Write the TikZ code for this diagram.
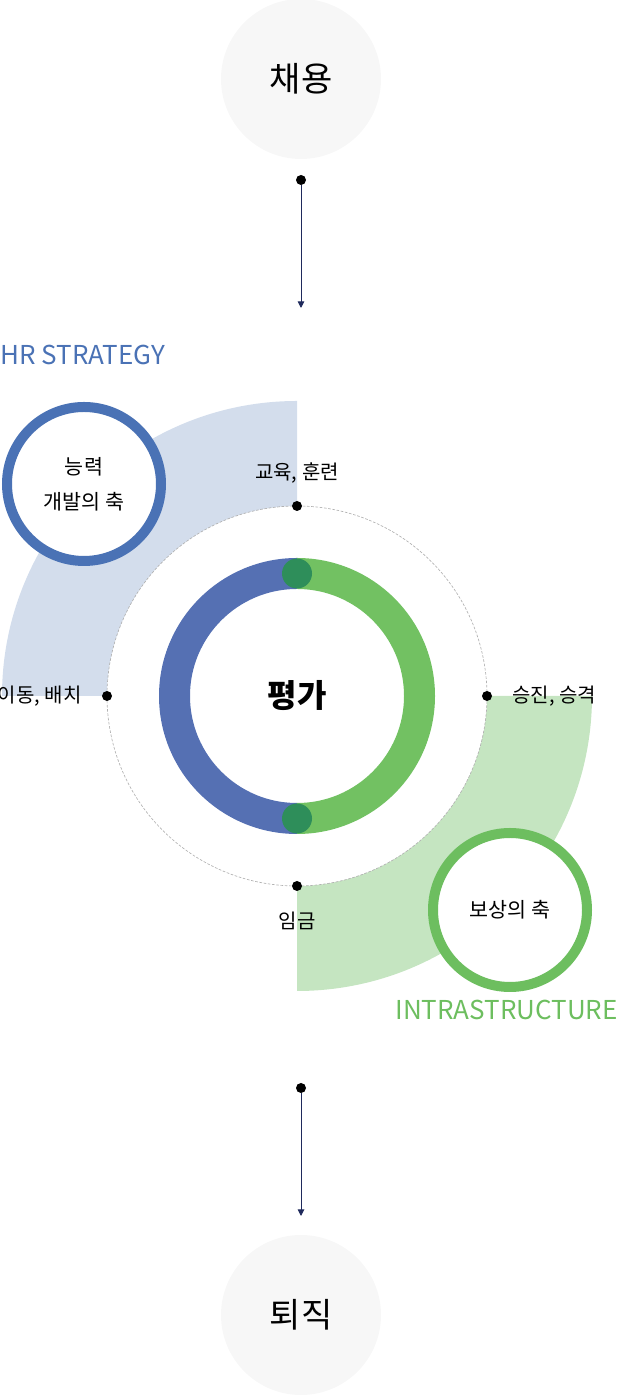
\documentclass[tikz,border=0pt]{standalone}
\usepackage{fontspec}
\setmainfont{Noto Sans CJK KR}
\usetikzlibrary{arrows.meta, positioning, calc}
\definecolor{hrblue}{HTML}{4A72B5}
\definecolor{ringblue}{HTML}{5570B3}
\definecolor{paleblue}{HTML}{D3DDEC}
\definecolor{infragreen}{HTML}{6DBE5F}
\definecolor{ringgreen}{HTML}{72C162}
\definecolor{palegreen}{HTML}{C5E5C1}
\definecolor{jointgreen}{HTML}{2E8E5A}
\definecolor{stagegray}{HTML}{F7F7F7}
\definecolor{flow}{HTML}{1F2A5C}

\begin{document}
\begin{tikzpicture}[
    x=0.75pt, y=0.75pt,
    stage/.style={circle, fill=stagegray, minimum size=120pt, inner sep=0pt, font=\fontsize{25.5}{30}\selectfont},
    axis/.style={circle, draw=#1, line width=7.5pt, fill=white, minimum size=115.5pt, inner sep=0pt, align=center, font=\fontsize{15.5}{26}\selectfont},
    dot/.style={circle, fill=black, minimum size=7.5pt, inner sep=0pt},
    joint/.style={circle, fill=jointgreen, minimum size=22.5pt, inner sep=0pt},
    tag/.style={font=\fontsize{15}{18}\selectfont, inner sep=0pt},
    title/.style={font=\fontsize{19.5}{24}\selectfont, inner sep=0pt},
    arrow/.style={-{Triangle[length=5pt, width=5pt]}, draw=flow, line width=0.75pt}
]
    \useasboundingbox (0,0) rectangle (618,1395);
    \coordinate (C) at (297,699);

    % pale quarter bands
    \fill[paleblue] (C) ++(90:190) arc[start angle=90, end angle=180, radius=190]
        -- ++(-105,0) arc[start angle=180, end angle=90, radius=295] -- cycle;
    \fill[palegreen] (C) ++(270:190) arc[start angle=270, end angle=360, radius=190]
        -- ++(105,0) arc[start angle=0, end angle=-90, radius=295] -- cycle;

    \draw[gray!60, line width=0.5pt, dash pattern=on 2pt off 1.2pt] (C) circle[radius=190];

    % evaluation ring
    \draw[ringblue, line width=23.25pt] (C) ++(90:122.5) arc[start angle=90, end angle=270, radius=122.5];
    \draw[ringgreen, line width=23.25pt] (C) ++(-90:122.5) arc[start angle=-90, end angle=90, radius=122.5];
    \node[joint] (jtop) at ($(C)+(0,122.5)$) {};
    \node[joint] (jbot) at ($(C)+(0,-122.5)$) {};
    \node[font=\bfseries\fontsize{24}{28}\selectfont] (eval) at (C) {평가};

    \node[dot] (dtop) at ($(C)+(0,190)$) {};
    \node[dot] (dleft) at ($(C)+(-190,0)$) {};
    \node[dot] (dright) at ($(C)+(190,0)$) {};
    \node[dot] (dbot) at ($(C)+(0,-190)$) {};

    \node[tag, above=13pt of dtop] (train) {교육, 훈련};
    \node[tag, left=15pt of dleft] (move) {이동, 배치};
    \node[tag, right=15pt of dright] (promo) {승진, 승격};
    \node[tag, below=15pt of dbot] (wage) {임금};

    \node[axis=hrblue] (grow) at (84,911) {능력\\개발의 축};
    \node[axis=infragreen] (reward) at (510,485) {보상의 축};

    \node[title, text=hrblue, anchor=west] (hr) at (0,1040) {HR STRATEGY};
    \node[title, text=infragreen, anchor=east] (infra) at (618,385) {INTRASTRUCTURE};

    % hiring and leaving
    \node[stage] (hire) at (301,1316) {채용};
    \node[stage] (leave) at (301,80) {퇴직};
    \node[dot] (hdot) at (301,1215) {};
    \coordinate (hend) at (301,1087);
    \node[dot] (ldot) at (301,307) {};
    \coordinate (lend) at (301,179);

    \draw[arrow] (hdot) -- (hend);
    \draw[arrow] (ldot) -- (lend);
\end{tikzpicture}
\end{document}
